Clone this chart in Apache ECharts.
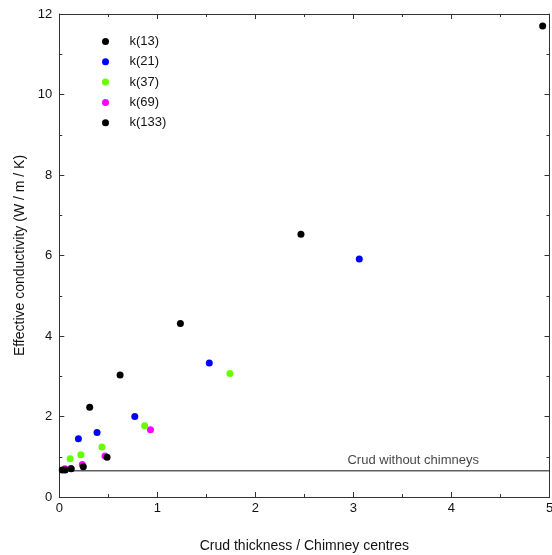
<!DOCTYPE html>
<html>
<head>
<meta charset="utf-8">
<script src="https://cdn.jsdelivr.net/npm/echarts@6/dist/echarts.min.js"></script>
<style>html,body{margin:0;padding:0;background:#fff;}#c{width:552px;height:555px;}</style>
</head>
<body>
<div id="c"></div>
<script>
const seriesNames = ['k(13)', 'k(21)', 'k(37)', 'k(69)', 'k(133)'];
const seriesColors = ['#000000', '#0000ff', '#66ff00', '#ff00ff', '#000000'];
const k13 = [[4.93, 11.70], [2.465, 6.53], [1.235, 4.31], [0.62, 3.03], [0.31, 2.23]];
const k21 = [[3.06, 5.91], [1.53, 3.33], [0.77, 2.00], [0.385, 1.60], [0.195, 1.45]];
const k37 = [[1.74, 3.07], [0.87, 1.77], [0.435, 1.24], [0.22, 1.05], [0.11, 0.95]];
const k69 = [[0.93, 1.67], [0.466, 1.02], [0.235, 0.81], [0.117, 0.71], [0.058, 0.70]];
const k133 = [[0.487, 0.99], [0.245, 0.75], [0.122, 0.70], [0.06, 0.67], [0.03, 0.67]];
const chimneyLevel = 0.65;
const chimneyLine = [[0, chimneyLevel], [5, chimneyLevel]];
const chimneyLabel = 'Crud without chimneys';
const chimneyLabelX = 3.61;
const xTitle = 'Crud thickness / Chimney centres';
const yTitle = 'Effective conductivity (W / m / K)';

const font = "'Liberation Sans', Arial, Helvetica, sans-serif";
const allData = [k13, k21, k37, k69, k133];
const axisLineStyle = {color: '#333', width: 1};

const scatterSeries = allData.map((d, i) => ({
  name: seriesNames[i],
  type: 'scatter',
  data: d,
  symbol: 'circle',
  symbolSize: 7,
  itemStyle: {color: seriesColors[i], opacity: 1},
  z: 3 + (i === 0 ? 1 : 0)
}));

const chart = echarts.init(document.getElementById('c'), null, {renderer: 'canvas'});
chart.setOption({
  animation: false,
  backgroundColor: '#fff',
  textStyle: {fontFamily: font},
  grid: {left: 59.3, right: 2.5, top: 14, bottom: 58, containLabel: false, outerBoundsMode: 'none'},
  legend: {
    orient: 'vertical',
    left: 97,
    top: 26.5,
    icon: 'circle',
    itemWidth: 30,
    itemHeight: 7,
    itemGap: 0.3,
    data: seriesNames.map(n => ({name: n})),
    textStyle: {fontSize: 13, color: '#111', fontFamily: font, lineHeight: 20, padding: [0, 0, 0, 4]}
  },
  xAxis: [{
    type: 'value', min: 0, max: 5, interval: 1, position: 'bottom',
    name: xTitle, nameLocation: 'middle', nameGap: 42,
    nameTextStyle: {fontSize: 14, color: '#111', fontFamily: font},
    axisLine: {show: true, onZero: false, lineStyle: axisLineStyle},
    axisTick: {show: true, inside: true, length: 5, lineStyle: axisLineStyle},
    minorTick: {show: true, splitNumber: 2, length: 3, lineStyle: axisLineStyle},
    axisLabel: {fontSize: 13, color: '#111', margin: 5, fontFamily: font},
    splitLine: {show: false}
  }, {
    type: 'value', min: 0, max: 5, interval: 1, position: 'top',
    axisLine: {show: true, onZero: false, lineStyle: axisLineStyle},
    axisTick: {show: true, inside: true, length: 5, lineStyle: axisLineStyle},
    minorTick: {show: true, splitNumber: 2, length: 3, lineStyle: axisLineStyle},
    axisLabel: {show: false},
    splitLine: {show: false}
  }],
  yAxis: [{
    type: 'value', min: 0, max: 12, interval: 2, position: 'left',
    name: yTitle, nameLocation: 'middle', nameGap: 30, nameRotate: 90,
    nameTextStyle: {fontSize: 14, color: '#111', fontFamily: font},
    axisLine: {show: true, onZero: false, lineStyle: axisLineStyle},
    axisTick: {show: true, inside: true, length: 5, lineStyle: axisLineStyle},
    minorTick: {show: true, splitNumber: 2, length: 3, lineStyle: axisLineStyle},
    axisLabel: {fontSize: 13, color: '#111', margin: 7, fontFamily: font},
    splitLine: {show: false}
  }, {
    type: 'value', min: 0, max: 12, interval: 2, position: 'right',
    axisLine: {show: true, onZero: false, lineStyle: axisLineStyle},
    axisTick: {show: true, inside: true, length: 5, lineStyle: axisLineStyle},
    minorTick: {show: true, splitNumber: 2, length: 3, lineStyle: axisLineStyle},
    axisLabel: {show: false},
    splitLine: {show: false}
  }],
  series: [
    {
      name: 'chimney', type: 'line', data: chimneyLine, symbol: 'none',
      lineStyle: {color: '#111', width: 1}, z: 1, silent: true
    },
    {
      name: 'chimneyLabel', type: 'scatter', data: [[chimneyLabelX, chimneyLevel]],
      symbolSize: 0, silent: true,
      label: {show: true, position: 'top', distance: 4, formatter: chimneyLabel,
        fontSize: 13, color: '#111', fontFamily: font}
    }
  ].concat(scatterSeries)
});
</script>
</body>
</html>
